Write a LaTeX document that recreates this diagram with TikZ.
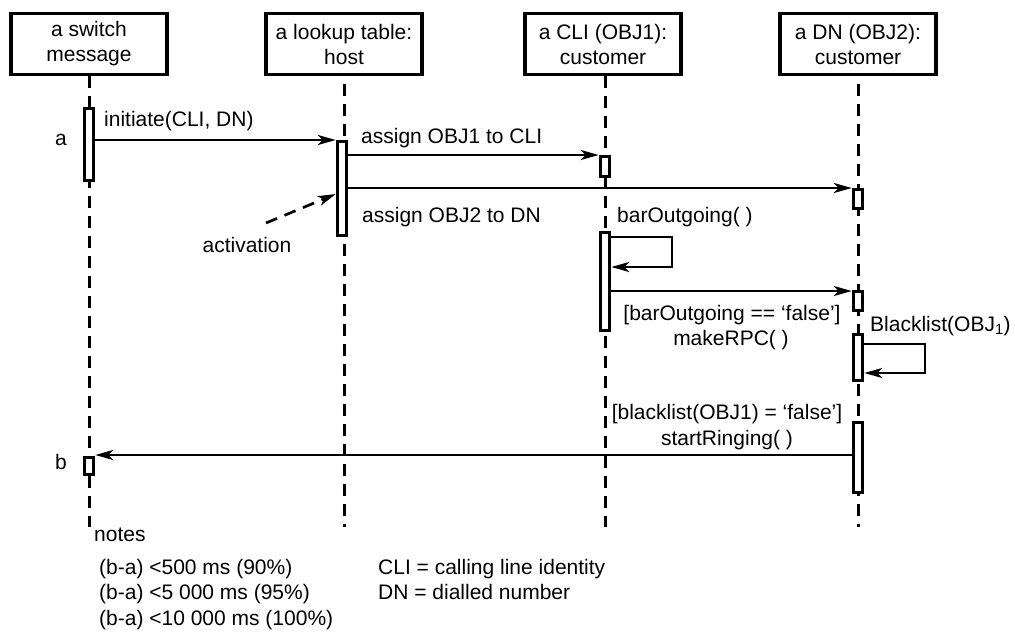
\documentclass[tikz,border=0pt]{standalone}
\usepackage{fontspec}
\setmainfont{Liberation Sans}
\usetikzlibrary{arrows.meta,calc}

\begin{document}
\begin{tikzpicture}[x=1pt,y=-1pt,
  every node/.style={font=\fontsize{21}{25}\selectfont, inner sep=0pt},
  obj/.style={draw, line width=3.2pt, minimum width=156pt, minimum height=61pt, align=center, fill=white},
  life/.style={line width=3pt, dash pattern=on 12pt off 8pt},
  act/.style={draw, line width=3pt, fill=white, minimum width=9.5pt},
  msg/.style={line width=2.7pt, -{Stealth[length=18pt,width=10pt,inset=5pt]}},
  lbl/.style={anchor=base west},
  clbl/.style={anchor=base},
]
\useasboundingbox (0,0) rectangle (1015,633);

% object boxes
\node[obj] (o1) at (89,44)  {a switch\\message};
\node[obj] (o2) at (344,44) {a lookup table:\\host};
\node[obj] (o3) at (603,44) {a CLI (OBJ1):\\customer};
\node[obj] (o4) at (858,44) {a DN (OBJ2):\\customer};

% lifeline ends
\coordinate (e1) at (89,527);
\coordinate (e2) at (344,527);
\coordinate (e3) at (605,527);
\coordinate (e4) at (858,527);

\draw[life] (o1.south) -- (e1);
\draw[life, dash phase=12pt] (o2.south) -- (e2);
\draw[life] (o3.south -| e3) -- (e3);
\draw[life, dash phase=12pt] (o4.south) -- (e4);

% activation bars
\node[act, minimum height=72pt]   (actA)  at (89,144.5) {};
\node[act, minimum height=93.5pt] (act2)  at (342,188.5) {};
\node[act, minimum height=20pt]   (act3a) at (605,166.5) {};
\node[act, minimum height=19pt]   (act4a) at (858,199) {};
\node[act, minimum height=98pt]   (act3b) at (605,281.5) {};
\node[act, minimum height=19pt]   (act4b) at (858,301) {};
\node[act, minimum height=46pt]   (act4c) at (858,357.5) {};
\node[act, minimum height=70pt]   (act4d) at (858,457.5) {};
\node[act, minimum height=17pt]   (actB)  at (89,466) {};

% message rows
\coordinate (r1) at (0,140);
\coordinate (r2) at (0,155);
\coordinate (r3) at (0,188);
\coordinate (loop1) at (672,237);
\coordinate (r5) at (0,267);
\coordinate (r6) at (0,291);
\coordinate (loop2) at (925,344);
\coordinate (r8) at (0,373);
\coordinate (r9) at (0,455);
\coordinate (ra) at (0,194);
\coordinate (actfrom) at (266,223);

% messages
\draw[msg] (actA.east |- r1) -- (act2.west |- r1);
\draw[msg] (act2.east |- r2) -- (act3a.west |- r2);
\draw[msg] (act2.east |- r3) -- (act4a.west |- r3);
\draw[msg] (act3b.east |- loop1) -- (loop1) |- (act3b.east |- r5);
\draw[msg] (act3b.east |- r6) -- (act4b.west |- r6);
\draw[msg] (act4c.east |- loop2) -- (loop2) |- (act4c.east |- r8);
\draw[msg] (act4d.west |- r9) -- (actB.east |- r9);

% activation callout
\node[clbl] (actlbl) at (247,252) {activation};
\draw[life, line width=2.7pt, -{Stealth[length=18pt,width=10pt,inset=5pt]}] (actfrom) -- (act2.west |- ra);

% message labels
\node[lbl] (l1) at (104,126) {initiate(CLI, DN)};
\node[clbl] (la) at (61,145) {a};
\node[lbl] (l2) at (361,143) {assign OBJ1 to CLI};
\node[lbl] (l3) at (362,222) {assign OBJ2 to DN};
\node[lbl] (l4) at (617,222) {barOutgoing( )};
\node[clbl] (l5a) at (732,320) {[barOutgoing == ‘false’]};
\node[clbl] (l5b) at (731,345) {makeRPC( )};
\node[lbl] (l6) at (870,331) {Blacklist(OBJ\textsubscript{1})};
\node[clbl] (l7a) at (727,419) {[blacklist(OBJ1) = ‘false’]};
\node[clbl] (l7b) at (727,445) {startRinging( )};
\node[clbl] (lb) at (61,469) {b};

% notes
\node[lbl] (n0) at (94,541) {notes};
\node[lbl] (n1) at (99,574) {(b-a) <500 ms (90\%)};
\node[lbl] (n2) at (99,599) {(b-a) <5 000 ms (95\%)};
\node[lbl] (n3) at (99,625) {(b-a) <10 000 ms (100\%)};
\node[lbl] (n4) at (378,574) {CLI = calling line identity};
\node[lbl] (n5) at (378,599) {DN = dialled number};
\end{tikzpicture}
\end{document}
